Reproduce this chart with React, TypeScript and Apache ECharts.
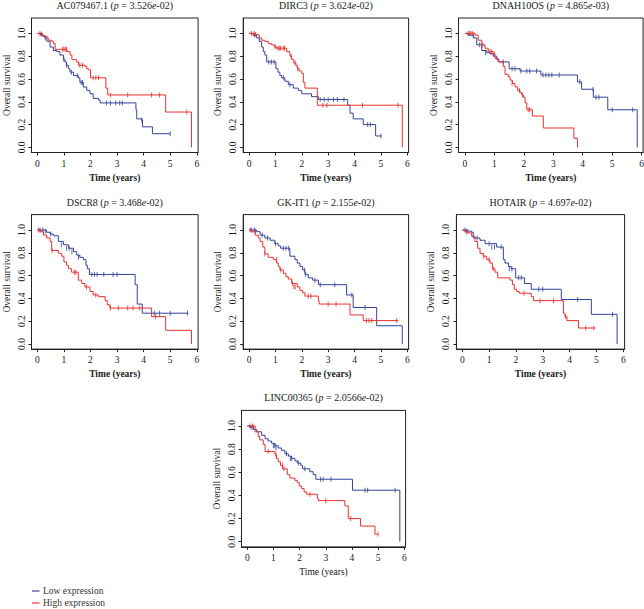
import React, { useEffect, useRef } from "react";
import * as echarts from "echarts";

type Pt = [number, number];

const BLUE = "#34439a";
const RED = "#e8312f";
const FONT = "'Liberation Serif', 'DejaVu Serif', serif";

// ---------- Panel 1: AC079467.1 ----------
const acLow: Pt[] = [[0,1],[0.1,0.99],[0.2,0.975],[0.28,0.96],[0.36,0.93],[0.48,0.88],[0.6,0.85],[0.73,0.84],[0.85,0.81],[0.98,0.77],[1.04,0.75],[1.1,0.72],[1.17,0.69],[1.23,0.66],[1.36,0.63],[1.54,0.61],[1.6,0.57],[1.73,0.53],[1.86,0.5],[1.98,0.47],[2.1,0.43],[2.3,0.415],[2.36,0.39],[3.71,0.33],[3.74,0.25],[3.93,0.24],[3.96,0.18],[4.33,0.12],[5.0,0.12]];
const acLowCens: Pt[] = [[0.3,0.96],[1.0,0.77],[1.1,0.72],[1.28,0.66],[1.5,0.63],[1.65,0.57],[1.7,0.57],[2.6,0.39],[2.75,0.39],[2.95,0.39],[3.1,0.39],[3.2,0.39],[3.93,0.24],[5.0,0.12]];
const acHigh: Pt[] = [[0,1],[0.2,0.98],[0.3,0.97],[0.4,0.96],[0.42,0.94],[0.55,0.93],[0.6,0.91],[0.67,0.86],[1.11,0.84],[1.23,0.81],[1.3,0.77],[1.48,0.75],[1.55,0.72],[1.8,0.71],[1.86,0.69],[1.92,0.68],[2.0,0.61],[2.58,0.52],[2.65,0.46],[4.83,0.31],[5.8,0]];
const acHighCens: Pt[] = [[0.1,1],[0.15,0.99],[0.95,0.86],[1.0,0.86],[1.05,0.86],[1.1,0.86],[1.6,0.72],[1.7,0.72],[2.1,0.61],[2.2,0.61],[2.3,0.61],[2.75,0.46],[3.4,0.46],[4.3,0.46],[4.6,0.46],[5.62,0.31]];

// ---------- Panel 2: DIRC3 ----------
const dircLow: Pt[] = [[0,1],[0.16,0.985],[0.29,0.96],[0.39,0.93],[0.48,0.88],[0.54,0.84],[0.6,0.81],[0.67,0.75],[1.02,0.69],[1.1,0.66],[1.17,0.63],[1.24,0.61],[1.36,0.58],[1.49,0.55],[1.68,0.52],[1.87,0.5],[2.0,0.47],[2.37,0.445],[2.63,0.42],[3.74,0.37],[3.83,0.3],[3.95,0.25],[4.33,0.2],[4.8,0.1],[5.03,0.1]];
const dircLowCens: Pt[] = [[0.2,0.985],[0.75,0.75],[0.85,0.75],[0.95,0.75],[1.3,0.61],[1.55,0.55],[2.7,0.42],[2.85,0.42],[3.0,0.42],[3.2,0.42],[3.35,0.42],[3.6,0.42],[4.5,0.2],[4.6,0.2],[5.0,0.1]];
const dircHigh: Pt[] = [[0,1],[0.16,0.99],[0.29,0.985],[0.39,0.96],[0.48,0.94],[0.6,0.93],[0.73,0.91],[0.86,0.9],[0.96,0.88],[1.05,0.87],[1.43,0.84],[1.55,0.8],[1.62,0.77],[1.7,0.74],[1.78,0.72],[1.83,0.69],[1.9,0.67],[2.0,0.65],[2.06,0.57],[2.12,0.52],[2.59,0.37],[5.81,0]];
const dircHighCens: Pt[] = [[0.1,1],[0.2,1],[0.25,0.99],[1.0,0.88],[1.1,0.87],[1.15,0.87],[1.2,0.87],[1.3,0.87],[1.35,0.87],[1.6,0.8],[1.75,0.74],[1.85,0.69],[2.8,0.37],[2.95,0.37],[4.3,0.37],[5.65,0.37]];

// ---------- Panel 3: DNAH10OS ----------
const dnahLow: Pt[] = [[0,1],[0.11,0.985],[0.28,0.96],[0.4,0.9],[0.57,0.85],[0.74,0.83],[0.85,0.82],[0.96,0.8],[1.08,0.77],[1.15,0.75],[1.5,0.69],[1.87,0.67],[2.58,0.635],[3.82,0.575],[3.96,0.51],[4.36,0.44],[4.85,0.33],[5.85,0]];
const dnahLowCens: Pt[] = [[0.5,0.9],[0.7,0.83],[1.3,0.75],[1.6,0.69],[1.7,0.69],[1.9,0.67],[2.1,0.67],[2.2,0.67],[2.43,0.67],[2.65,0.635],[2.75,0.635],[2.85,0.635],[2.95,0.635],[3.2,0.635],[3.9,0.575],[4.35,0.51],[4.45,0.44],[4.55,0.44],[5.0,0.33],[5.7,0.33]];
const dnahHigh: Pt[] = [[0,1],[0.34,0.985],[0.45,0.94],[0.57,0.9],[0.68,0.87],[0.79,0.84],[0.96,0.82],[1.02,0.78],[1.13,0.75],[1.3,0.71],[1.36,0.64],[1.47,0.62],[1.53,0.59],[1.61,0.56],[1.7,0.53],[1.79,0.5],[1.87,0.48],[1.93,0.46],[1.98,0.44],[2.04,0.39],[2.1,0.33],[2.29,0.275],[2.66,0.17],[3.7,0.08],[3.82,0]];
const dnahHighCens: Pt[] = [[0.1,1],[0.15,1],[0.2,1],[0.25,1],[0.3,0.99],[0.6,0.9],[0.85,0.84],[0.9,0.84],[1.0,0.82],[1.6,0.56],[1.85,0.5],[1.95,0.46],[2.15,0.33],[2.2,0.33]];

// ---------- Panel 4: DSCR8 ----------
const dscrLow: Pt[] = [[0,1],[0.35,0.98],[0.48,0.965],[0.6,0.95],[0.79,0.9],[0.98,0.87],[1.17,0.84],[1.36,0.81],[1.48,0.78],[1.6,0.76],[1.73,0.74],[1.83,0.69],[1.88,0.66],[1.96,0.61],[3.68,0.52],[3.76,0.35],[3.95,0.27],[5.68,0.27]];
const dscrLowCens: Pt[] = [[0.1,1],[0.2,1],[0.3,0.99],[0.5,0.965],[0.9,0.87],[1.1,0.84],[1.2,0.84],[1.3,0.81],[1.55,0.76],[2.05,0.61],[2.15,0.61],[2.25,0.61],[2.5,0.61],[2.85,0.61],[3.0,0.61],[4.4,0.27],[4.6,0.27],[5.0,0.27],[5.65,0.27]];
const dscrHigh: Pt[] = [[0,1],[0.1,0.985],[0.23,0.955],[0.35,0.93],[0.48,0.9],[0.54,0.82],[0.79,0.795],[0.92,0.77],[1.0,0.72],[1.1,0.69],[1.17,0.66],[1.29,0.63],[1.54,0.56],[1.67,0.53],[1.79,0.5],[1.98,0.46],[2.1,0.43],[2.3,0.415],[2.55,0.38],[2.63,0.345],[2.73,0.315],[4.3,0.24],[4.83,0.12],[5.8,0]];
const dscrHighCens: Pt[] = [[0.05,1],[0.55,0.82],[1.4,0.63],[1.45,0.63],[1.85,0.5],[2.2,0.43],[2.75,0.315],[3.05,0.315],[3.4,0.315],[3.6,0.315],[3.85,0.315],[4.45,0.24]];

// ---------- Panel 5: GK-IT1 ----------
const gkLow: Pt[] = [[0,1],[0.29,0.985],[0.42,0.955],[0.6,0.93],[0.8,0.91],[0.98,0.88],[1.11,0.86],[1.2,0.84],[1.55,0.77],[1.74,0.74],[1.83,0.71],[1.93,0.68],[2.03,0.65],[2.12,0.61],[2.25,0.58],[2.41,0.56],[2.63,0.52],[3.7,0.43],[3.95,0.32],[4.84,0.16],[5.81,0]];
const gkLowCens: Pt[] = [[0.1,1],[0.2,1],[0.25,0.99],[0.5,0.955],[0.7,0.93],[1.0,0.88],[1.3,0.84],[1.4,0.84],[1.5,0.84],[2.1,0.65],[2.15,0.61],[2.5,0.56],[2.7,0.52],[3.25,0.52],[3.9,0.43],[4.4,0.32]];
const gkHigh: Pt[] = [[0,1],[0.1,0.985],[0.23,0.955],[0.35,0.93],[0.42,0.9],[0.52,0.85],[0.6,0.79],[0.73,0.76],[0.92,0.74],[1.05,0.71],[1.11,0.68],[1.17,0.65],[1.3,0.62],[1.4,0.59],[1.49,0.57],[1.62,0.53],[1.83,0.5],[1.93,0.47],[2.03,0.45],[2.12,0.42],[2.63,0.38],[2.66,0.35],[3.83,0.255],[4.33,0.205],[5.66,0.205]];
const gkHighCens: Pt[] = [[0.05,1],[0.6,0.79],[1.05,0.74],[1.2,0.65],[1.65,0.53],[1.7,0.5],[1.75,0.5],[2.25,0.42],[2.35,0.42],[3.0,0.35],[3.3,0.35],[4.45,0.205],[4.55,0.205],[4.65,0.205],[5.6,0.205]];

// ---------- Panel 6: HOTAIR ----------
const hotLow: Pt[] = [[0,1],[0.16,0.99],[0.35,0.98],[0.41,0.93],[0.66,0.91],[0.85,0.88],[1.28,0.85],[1.53,0.74],[1.59,0.71],[1.72,0.68],[1.82,0.66],[1.99,0.58],[2.32,0.53],[2.57,0.48],[3.69,0.39],[4.81,0.26],[5.77,0]];
const hotLowCens: Pt[] = [[0.1,1],[0.2,0.99],[0.55,0.93],[1.0,0.88],[1.1,0.85],[1.2,0.85],[1.45,0.85],[1.75,0.66],[1.85,0.66],[2.1,0.58],[2.2,0.58],[2.85,0.48],[3.0,0.48],[4.3,0.39],[5.6,0.26]];
const hotHigh: Pt[] = [[0,1],[0.1,0.985],[0.22,0.975],[0.35,0.945],[0.47,0.9],[0.57,0.84],[0.66,0.795],[0.78,0.77],[0.91,0.74],[1.03,0.71],[1.12,0.66],[1.22,0.63],[1.32,0.58],[1.78,0.56],[1.87,0.52],[1.94,0.48],[2.03,0.46],[2.12,0.445],[2.57,0.415],[2.65,0.38],[3.77,0.27],[3.83,0.24],[3.9,0.205],[4.33,0.14],[4.96,0.14]];
const hotHighCens: Pt[] = [[0.15,0.985],[0.8,0.77],[1.0,0.74],[1.15,0.66],[2.3,0.445],[2.9,0.38],[3.4,0.38],[3.85,0.24],[4.6,0.14],[4.9,0.14]];

// ---------- Panel 7: LINC00365 ----------
const lincLow: Pt[] = [[0,1],[0.1,0.99],[0.23,0.97],[0.36,0.95],[0.55,0.92],[0.68,0.89],[0.8,0.87],[0.93,0.85],[1.06,0.83],[1.18,0.81],[1.31,0.79],[1.44,0.76],[1.57,0.74],[1.69,0.72],[1.82,0.7],[1.91,0.68],[2.04,0.66],[2.11,0.63],[2.39,0.605],[2.52,0.58],[2.62,0.54],[4.02,0.445],[5.83,0]];
const lincLowCens: Pt[] = [[0.15,0.99],[1.0,0.83],[1.05,0.83],[1.1,0.81],[1.5,0.76],[1.65,0.72],[1.7,0.72],[1.95,0.68],[2.2,0.63],[2.8,0.54],[2.9,0.54],[3.2,0.54],[4.5,0.445],[4.6,0.445],[5.65,0.445]];
const lincHigh: Pt[] = [[0,1],[0.3,0.95],[0.42,0.91],[0.48,0.88],[0.61,0.84],[0.68,0.78],[1.06,0.75],[1.12,0.72],[1.18,0.69],[1.27,0.66],[1.35,0.63],[1.53,0.58],[1.63,0.55],[1.82,0.53],[1.91,0.51],[1.99,0.48],[2.08,0.46],[2.17,0.43],[2.27,0.41],[2.68,0.375],[2.71,0.355],[3.73,0.31],[3.86,0.2],[4.33,0.135],[4.88,0.065],[5.0,0.065]];
const lincHighCens: Pt[] = [[0.1,1],[0.2,1],[0.25,0.99],[0.8,0.78],[1.1,0.75],[1.35,0.66],[1.4,0.63],[2.4,0.41],[3.0,0.355],[3.95,0.2],[5.0,0.065]];

const genes = ["AC079467.1", "DIRC3", "DNAH10OS", "DSCR8", "GK-IT1", "HOTAIR", "LINC00365"];
const pMantissa = ["3.526", "3.624", "4.865", "3.468", "2.155", "4.697", "2.0566"];
const pExponent = ["-02", "-02", "-03", "-02", "-02", "-02", "-02"];
const lowCurves = [acLow, dircLow, dnahLow, dscrLow, gkLow, hotLow, lincLow];
const lowCensors = [acLowCens, dircLowCens, dnahLowCens, dscrLowCens, gkLowCens, hotLowCens, lincLowCens];
const highCurves = [acHigh, dircHigh, dnahHigh, dscrHigh, gkHigh, hotHigh, lincHigh];
const highCensors = [acHighCens, dircHighCens, dnahHighCens, dscrHighCens, gkHighCens, hotHighCens, lincHighCens];
const xTicks = [0, 1, 2, 3, 4, 5, 6];
const yTicks = [0, 0.2, 0.4, 0.6, 0.8, 1.0];
const legendNames = ["Low expression", "High expression"];

// layout of plot boxes (pixels)
const boxes = [
  { left: 31.5, top: 18, width: 166.6, height: 134.5 },
  { left: 243.2, top: 18, width: 165.4, height: 134.5 },
  { left: 458.5, top: 18, width: 184.6, height: 134.5 },
  { left: 31.5, top: 214.6, width: 166.6, height: 134.5 },
  { left: 243.2, top: 214.6, width: 165.4, height: 134.5 },
  { left: 456.4, top: 214.6, width: 168.2, height: 134.5 },
  { left: 241.5, top: 410.4, width: 164.1, height: 136.5 },
];
const boldXName = [true, true, true, true, true, true, false];
const X_MIN = -0.22, X_MAX = 6.05, Y_MIN = -0.045, Y_MAX = 1.135;

export default function App() {
  const ref = useRef<HTMLDivElement>(null);
  useEffect(() => {
    if (!ref.current) return;
    const chart = echarts.init(ref.current, null, { renderer: "svg" });
    const grid: any[] = [];
    const xAxis: any[] = [];
    const yAxis: any[] = [];
    const series: any[] = [];
    const graphic: any[] = [];
    const axisTextColor = "#1a1a1a";

    genes.forEach((g, i) => {
      const b = boxes[i];
      grid.push({ ...b, show: true, borderColor: "#222", borderWidth: 1, backgroundColor: "transparent", containLabel: false, outerBoundsMode: "none" });
      xAxis.push({
        type: "value", gridIndex: i, min: X_MIN, max: X_MAX,
        name: "Time (years)", nameLocation: "middle", nameGap: 20,
        nameTextStyle: { fontFamily: FONT, fontSize: 9.5, color: axisTextColor, fontWeight: boldXName[i] ? "bold" : "normal" },
        axisLine: { show: true, onZero: false, lineStyle: { color: "#222", width: 1 } },
        axisTick: { show: true, length: 3, customValues: xTicks, lineStyle: { color: "#222" } },
        axisLabel: { show: true, customValues: xTicks, margin: 6, fontFamily: FONT, fontSize: 9.5, color: axisTextColor, formatter: (v: number) => String(v) },
        splitLine: { show: false },
      });
      yAxis.push({
        type: "value", gridIndex: i, min: Y_MIN, max: Y_MAX,
        name: "Overall survival", nameLocation: "middle", nameGap: 20, nameRotate: 90,
        nameTextStyle: { fontFamily: FONT, fontSize: 9.5, color: axisTextColor, fontWeight: "normal" },
        axisLine: { show: true, onZero: false, lineStyle: { color: "#222", width: 1 } },
        axisTick: { show: true, length: 3, customValues: yTicks, lineStyle: { color: "#222" } },
        axisLabel: { show: true, customValues: yTicks, rotate: 90, margin: 5, fontFamily: FONT, fontSize: 9.5, color: axisTextColor, formatter: (v: number) => v.toFixed(1) },
        splitLine: { show: false },
      });
      const common = { xAxisIndex: i, yAxisIndex: i, silent: true, emphasis: { disabled: true } };
      series.push({ ...common, type: "line", data: lowCurves[i], step: "end", symbol: "none", showSymbol: false, lineStyle: { color: BLUE, width: 1 } });
      series.push({ ...common, type: "line", data: highCurves[i], step: "end", symbol: "none", showSymbol: false, lineStyle: { color: RED, width: 1 } });
      series.push({ ...common, type: "scatter", data: lowCensors[i], symbol: "rect", symbolSize: [1, 5], itemStyle: { color: BLUE } });
      series.push({ ...common, type: "scatter", data: highCensors[i], symbol: "rect", symbolSize: [1, 5], itemStyle: { color: RED } });

      graphic.push({
        type: "text",
        x: b.left + b.width / 2,
        y: b.top - 12.5,
        style: {
          text: `{n|${g} (}{i|p}{n| = ${pMantissa[i]}}{i|e}{n|${pExponent[i]})}`,
          align: "center",
          verticalAlign: "middle",
          fill: "#1a1a1a",
          rich: {
            n: { fontFamily: FONT, fontSize: 10, fill: "#1a1a1a" },
            i: { fontFamily: FONT, fontSize: 10, fontStyle: "italic", fill: "#1a1a1a" },
          },
        },
      });
    });

    const legendColors = [BLUE, RED];
    legendNames.forEach((name, k) => {
      const y = 591 + k * 12;
      graphic.push({ type: "line", shape: { x1: 32, y1: y, x2: 39.5, y2: y }, style: { stroke: legendColors[k], lineWidth: 1.2 } });
      graphic.push({ type: "text", x: 43, y, style: { text: name, fontFamily: FONT, fontSize: 9.5, fill: "#333", verticalAlign: "middle", align: "left" } });
    });

    chart.setOption({
      animation: false,
      backgroundColor: "#fff",
      grid, xAxis, yAxis, series, graphic,
    });
    return () => chart.dispose();
  }, []);
  return <div ref={ref} style={{ position: "fixed", left: 0, top: 0, width: 644, height: 609 }} />;
}
